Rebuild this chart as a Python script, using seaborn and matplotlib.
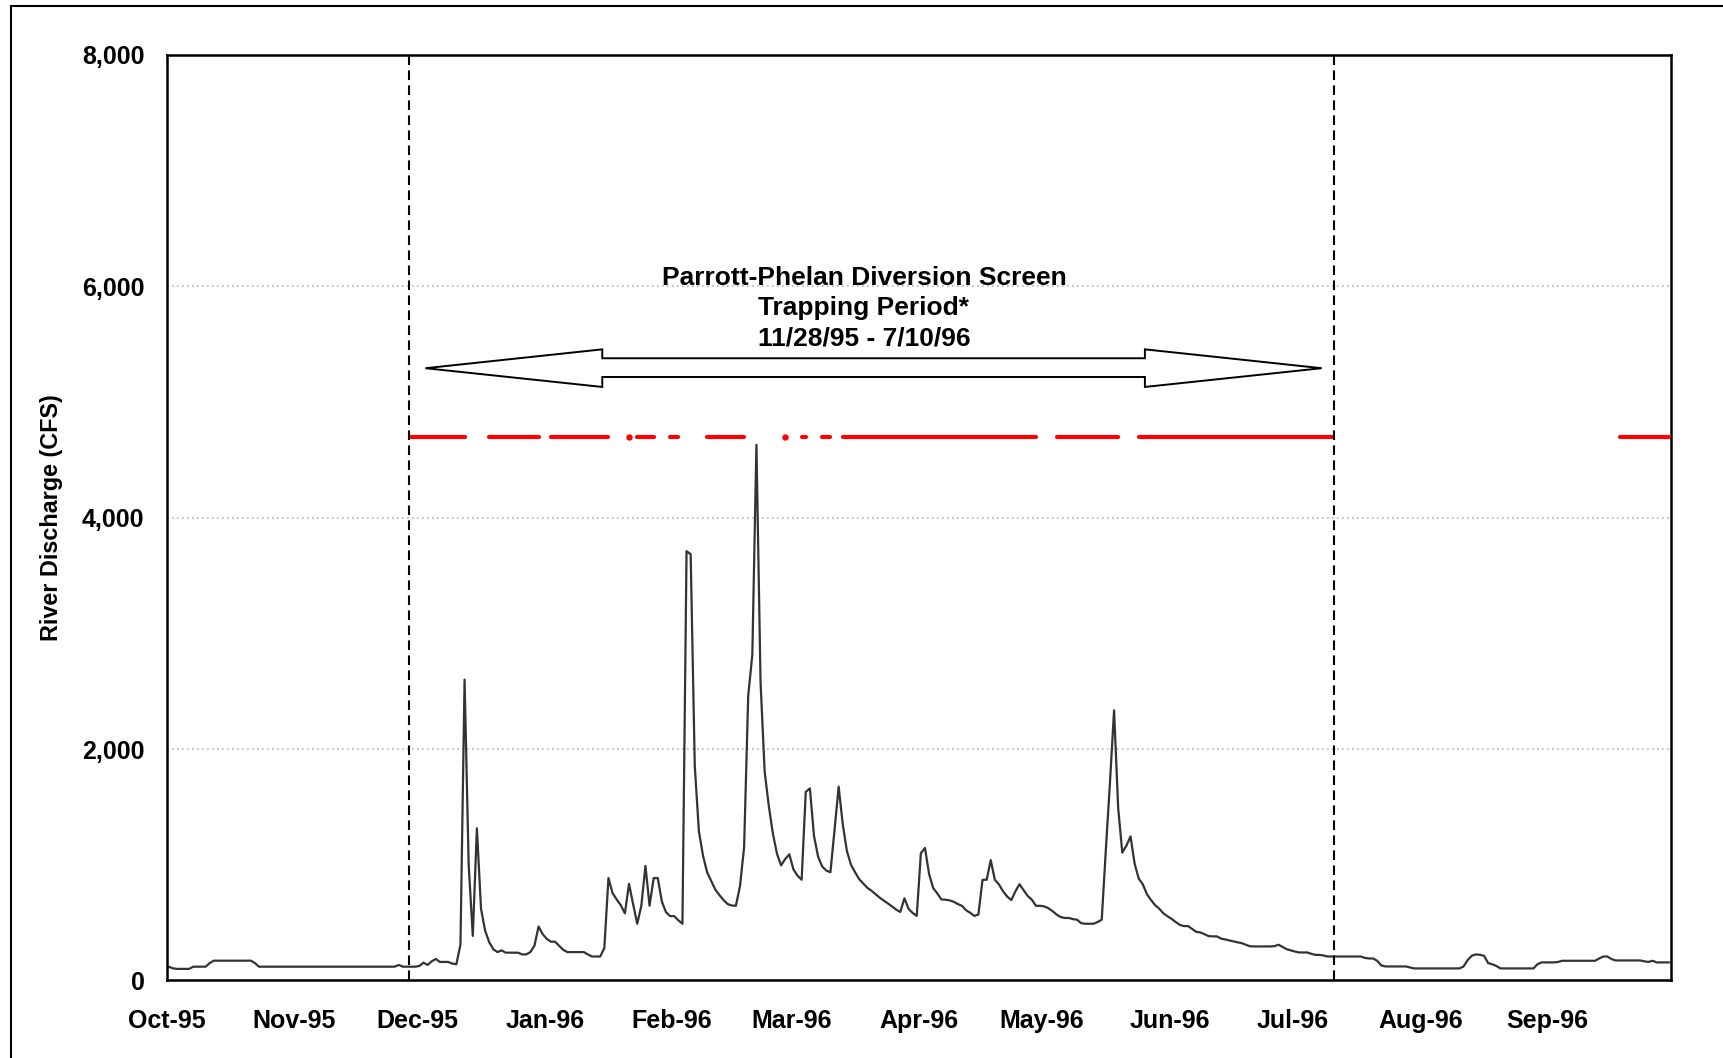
import numpy as np
import pandas as pd
import matplotlib
matplotlib.use('Agg')
import matplotlib.pyplot as plt
import matplotlib.dates as mdates
from matplotlib.patches import Polygon, Rectangle
from matplotlib.ticker import FuncFormatter
import seaborn as sns

# daily river discharge (CFS), Oct-95 .. Sep-96
oct95 = [119, 105, 100, 100, 100, 100, 119, 119, 119, 119, 150, 171, 171, 171, 171, 171,
         171, 171, 171, 171, 171, 150, 119, 119, 119, 119, 119, 119, 119, 119, 119]
nov95 = [119, 119, 119, 119, 119, 119, 119, 119, 119, 119, 119, 119, 119, 119, 119,
         119, 119, 119, 119, 119, 119, 119, 119, 119, 119, 134, 119, 119, 119, 119]
dec95 = [125, 154, 134, 165, 186, 160, 160, 160, 146, 140, 310, 2600, 1000, 385, 1315, 620,
         430, 330, 270, 245, 260, 240, 240, 240, 240, 225, 225, 245, 300, 466, 400]
jan96 = [360, 335, 335, 300, 265, 245, 245, 245, 245, 245, 225, 207, 207, 207, 280, 885,
         755, 700, 650, 580, 835, 660, 490, 646, 990, 646, 885, 885, 682, 590, 556]
feb96 = [556, 520, 490, 3710, 3685, 1855, 1290, 1080, 935, 860, 785, 738, 695, 660, 648,
         645, 815, 1150, 2460, 2815, 4630, 2580, 1805, 1510, 1270, 1095, 995, 1050, 1090]
mar96 = [960, 905, 870, 1630, 1660, 1250, 1070, 985, 950, 935, 1300, 1675, 1350, 1120, 1000,
         935, 875, 838, 800, 775, 745, 715, 690, 665, 640, 612, 592, 710, 620, 583, 558]
apr96 = [1100, 1145, 920, 798, 752, 700, 698, 692, 680, 660, 645, 607, 585, 558, 570,
         870, 870, 1040, 870, 830, 770, 725, 695, 770, 832, 780, 730, 698, 645, 645]
may96 = [640, 625, 600, 570, 548, 540, 540, 530, 525, 495, 490, 490, 490, 505, 525, 1130,
         1710, 2335, 1490, 1105, 1165, 1245, 1010, 880, 830, 745, 695, 650, 620, 580, 555]
jun96 = [532, 505, 480, 470, 470, 445, 420, 415, 400, 383, 381, 381, 362, 355, 346,
         338, 330, 323, 310, 296, 294, 294, 294, 294, 294, 296, 309, 290, 270, 260]
jul96 = [250, 242, 242, 242, 230, 221, 221, 215, 207, 207, 207, 207, 207, 207, 207, 207,
         207, 195, 190, 190, 170, 130, 121, 121, 121, 121, 121, 121, 112, 104, 104]
aug96 = [104, 104, 104, 104, 104, 104, 104, 104, 104, 104, 120, 175, 213, 225, 222, 213,
         150, 140, 125, 104, 104, 104, 104, 104, 104, 104, 104, 104, 140, 156, 156]
sep96 = [156, 156, 160, 170, 170, 170, 170, 170, 170, 170, 170, 170, 190, 207, 207,
         185, 173, 173, 173, 173, 173, 173, 173, 165, 160, 170, 156, 156, 156, 156]

# days the diversion screen trap was fished (drawn at the red level)
trap_start = ['1995-11-29', '1995-12-18', '1996-01-02', '1996-01-21', '1996-01-23',
              '1996-01-31', '1996-02-09', '1996-02-28', '1996-03-03', '1996-03-08',
              '1996-03-13', '1996-05-04', '1996-05-24', '1996-09-18']
trap_end = ['1995-12-12', '1995-12-30', '1996-01-16', '1996-01-21', '1996-01-27',
            '1996-02-02', '1996-02-18', '1996-02-28', '1996-03-04', '1996-03-10',
            '1996-04-29', '1996-05-19', '1996-07-10', '1996-09-30']
trap_level = 4700

period_dates = ['1995-11-28', '1996-07-10']
period_text = 'Parrott-Phelan Diversion Screen\nTrapping Period*\n11/28/95 - 7/10/96'

flow = oct95 + nov95 + dec95 + jan96 + feb96 + mar96 + apr96 + may96 + jun96 + jul96 + aug96 + sep96
dates = pd.date_range('1995-10-01', '1996-09-30', freq='D')
df = pd.DataFrame({'date': dates + pd.Timedelta(hours=12), 'cfs': flow})

trap = pd.Series(np.nan, index=dates)
single = pd.Series(np.nan, index=dates)
for s, e in zip(trap_start, trap_end):
    trap[s:e] = trap_level
    if s == e:
        single[s] = trap_level

sns.set_style('white')
plt.rcParams['font.family'] = ['Liberation Sans', 'DejaVu Sans']
plt.rcParams['font.weight'] = 'bold'

fig = plt.figure(figsize=(17.24, 10.58), dpi=100)
ax = fig.add_axes([0.0966, 0.0733, 0.8727, 0.8748])

ax.yaxis.grid(True, color='#b8b8b8', linestyle=(0, (1, 2)), linewidth=1.2)
ax.set_axisbelow(True)

sns.lineplot(data=df, x='date', y='cfs', ax=ax, color='#333333', linewidth=1.6, estimator=None)

ax.plot(df['date'], trap.values, color='red', linewidth=3, solid_capstyle='round', zorder=3)
ax.plot(df['date'], single.values, linestyle='none', marker='o', markersize=4.6,
        markeredgewidth=0, markerfacecolor='red', zorder=3)

for d in period_dates:
    ax.axvline(pd.Timestamp(d) + pd.Timedelta(days=1), color='black', linewidth=1.5,
               linestyle=(0, (4.6, 2.6)), zorder=4)

# double headed block arrow spanning the trapping period
tl, bl, br, tr = mdates.date2num(pd.to_datetime(['1995-12-03', '1996-01-15', '1996-05-26', '1996-07-08']))
yc, h_top, h_bot, s_top, s_bot = 5292, 5455, 5130, 5378, 5216
pts = [(tl, yc), (bl, h_top), (bl, s_top), (br, s_top), (br, h_top), (tr, yc),
       (br, h_bot), (br, s_bot), (bl, s_bot), (bl, h_bot)]
ax.add_patch(Polygon(pts, closed=True, facecolor='white', edgecolor='black', linewidth=1.4, zorder=5))
ax.text(mdates.date2num(pd.Timestamp('1996-03-18 16:00')), 5810, period_text, ha='center',
        va='center', fontsize=19, fontweight='bold', linespacing=1.33, color='black', zorder=6)

ax.set_xlim(pd.Timestamp('1995-10-01'), pd.Timestamp('1996-10-01'))
ax.set_ylim(0, 8000)
ax.set_yticks([0, 2000, 4000, 6000, 8000])
ax.yaxis.set_major_formatter(FuncFormatter(lambda v, p: f'{int(v):,}'))
ax.xaxis.set_major_locator(mdates.MonthLocator())
ax.xaxis.set_major_formatter(mdates.DateFormatter('%b-%y'))
xt = ax.get_xticks()
ax.set_xticks(xt[:-1] if len(xt) > 12 else xt)

ax.tick_params(axis='both', direction='out', length=5.8, width=1.5, color='black',
               labelsize=18, labelcolor='black')
ax.tick_params(axis='x', pad=15)
ax.tick_params(axis='y', pad=10)
for lab in ax.get_xticklabels() + ax.get_yticklabels():
    lab.set_fontweight('bold')

for sp in ax.spines.values():
    sp.set_visible(True)
    sp.set_color('black')
    sp.set_linewidth(1.8)

ax.set_xlabel('')
ax.set_ylabel('River Discharge (CFS)', fontsize=16.8, fontweight='bold', color='black')
ax.yaxis.set_label_coords(-0.069, 0.5)

fig.patches.append(Rectangle((11 / 1724, -0.05), 1.2, 1.05 - 5.5 / 1058, transform=fig.transFigure,
                             fill=False, edgecolor='black', linewidth=1.5))

fig.savefig('out.png', dpi=100)
